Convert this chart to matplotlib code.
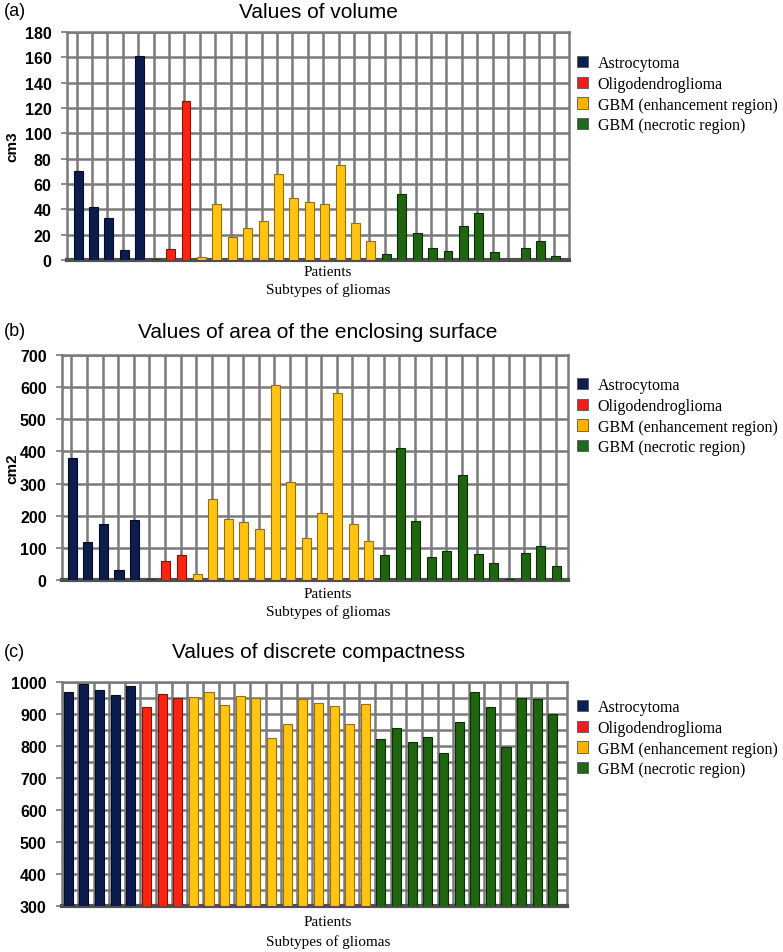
import matplotlib
matplotlib.use("Agg")
import matplotlib.pyplot as plt
from matplotlib.patches import Patch
import numpy as np

# ---------------- data ----------------
categories = ["Astrocytoma", "Oligodendroglioma", "GBM (enhancement region)", "GBM (necrotic region)"]
group_sizes = [5, 3, 12, 12]

volume = [70, 42, 33, 8, 161,
          0.5, 8.5, 125.5,
          2, 44, 18, 25, 31, 68, 49, 46, 44, 75, 29, 15,
          5, 52, 21, 9.5, 7, 27, 37, 6, 0.3, 9.5, 15, 3.4]

area = [380, 118, 175, 31, 187,
        3, 59, 78,
        19, 253, 190, 182, 159, 606, 305, 132, 210, 581, 174, 120,
        78, 411, 185, 73, 89, 328, 80, 52, 2, 83, 106, 45]

compactness = [969, 994, 974, 960, 988,
               922, 964, 950,
               953, 969, 927, 955, 950, 826, 870, 948, 934, 924, 870, 930,
               821, 857, 812, 828, 779, 875, 969, 922, 797, 950, 948, 899]

titles = ["Values of volume", "Values of area of the enclosing surface", "Values of discrete compactness"]
panel_tags = ["(a)", "(b)", "(c)"]
ylabels = ["cm3", "cm2", ""]
xlabel1 = "Patients"
xlabel2 = "Subtypes of gliomas"

# ---------------- style ----------------
bar_colors = ["#0c1c4c", "#fb2410", "#ffc414", "#1f6410"]
edge_colors = ["#050d26", "#8a1005", "#9a6f00", "#0c3006"]
legend_colors = ["#0d1f50", "#ee1c1c", "#ffb000", "#1f6a1a"]
grid_col = "#7a7a7a"

W, H = 783, 953
fig = plt.figure(figsize=(W / 100, H / 100), dpi=100)

def fx(px):
    return px / W

def fy(py):
    return 1 - py / H

# axes rectangles in pixels: left, top, right, bottom
rects = [(67, 33, 569, 261), (62, 356, 568, 581), (62, 683, 567, 907)]
ylims = [(0, 180), (0, 700), (300, 1000)]
yticks = [np.arange(0, 181, 20), np.arange(0, 701, 100), np.arange(300, 1001, 100)]
ygrid = [np.arange(0, 181, 20), np.arange(0, 701, 100), np.arange(300, 1001, 50)]
xlims = [(-0.72, 31.85), (-0.65, 31.75), (-0.4, 31.9)]
vgrid_offset = [-0.1, -0.05, -0.38]
title_y = [12, 332, 653]
xlab_y = [(273, 290), (595, 612), (923, 942)]
legend_top = [56, 378, 700]
datasets = [volume, area, compactness]

group_idx = np.repeat(np.arange(len(group_sizes)), group_sizes)

for p in range(3):
    l, t, r, b = rects[p]
    ax = fig.add_axes([fx(l), fy(b), (r - l) / W, (b - t) / H])
    vals = datasets[p]
    x = np.arange(len(vals))
    base = ylims[p][0]
    cols = [bar_colors[g] for g in group_idx]
    ecols = [edge_colors[g] for g in group_idx]
    heights = [v - base for v in vals]
    ax.bar(x, heights, bottom=base, width=0.58, color=cols, edgecolor=ecols,
           linewidth=0.8, zorder=3)
    ax.set_xlim(*xlims[p])
    ax.set_ylim(*ylims[p])
    ax.set_yticks(yticks[p])
    ax.set_xticks([])
    for gy in ygrid[p]:
        ax.axhline(gy, color=grid_col, linewidth=1.8, zorder=0)
    for gx in x + vgrid_offset[p]:
        ax.axvline(gx, color=grid_col, linewidth=1.8, zorder=0)
    ax.tick_params(axis="y", which="major", length=4, color=grid_col, width=1.2, pad=7,
                   labelsize=11.5)
    for lab in ax.get_yticklabels():
        lab.set_fontfamily("Liberation Sans")
        lab.set_fontweight("bold")
    for s in ["left", "right", "top"]:
        ax.spines[s].set_color(grid_col)
        ax.spines[s].set_linewidth(1.8)
    ax.spines["bottom"].set_color("#505050")
    ax.spines["bottom"].set_linewidth(3)

    # title and panel tag
    fig.text(fx(318), fy(title_y[p]), titles[p], ha="center", va="center",
             fontsize=15, family="Liberation Sans")
    fig.text(fx(4), fy(title_y[p]), panel_tags[p], ha="left", va="center",
             fontsize=13, family="Liberation Sans")
    if ylabels[p]:
        fig.text(fx(12), fy((t + b) / 2), ylabels[p], rotation=90, ha="center", va="center",
                 fontsize=11, family="Liberation Sans", fontweight="bold")
    fig.text(fx(328), fy(xlab_y[p][0]), xlabel1, ha="center", va="center",
             fontsize=11, family="Liberation Serif")
    fig.text(fx(328), fy(xlab_y[p][1]), xlabel2, ha="center", va="center",
             fontsize=11, family="Liberation Serif")

    handles = [Patch(facecolor=legend_colors[i], edgecolor="#555555", linewidth=0.6)
               for i in range(len(categories))]
    ax.legend(handles, categories, loc="upper left",
              bbox_to_anchor=(fx(577), fy(legend_top[p])), bbox_transform=fig.transFigure,
              frameon=False, borderaxespad=0, borderpad=0, handlelength=0.7,
              handleheight=0.7, handletextpad=0.6, labelspacing=0.3,
              prop={"family": "Liberation Serif", "size": 11.5})

fig.savefig("out.png", dpi=100)
